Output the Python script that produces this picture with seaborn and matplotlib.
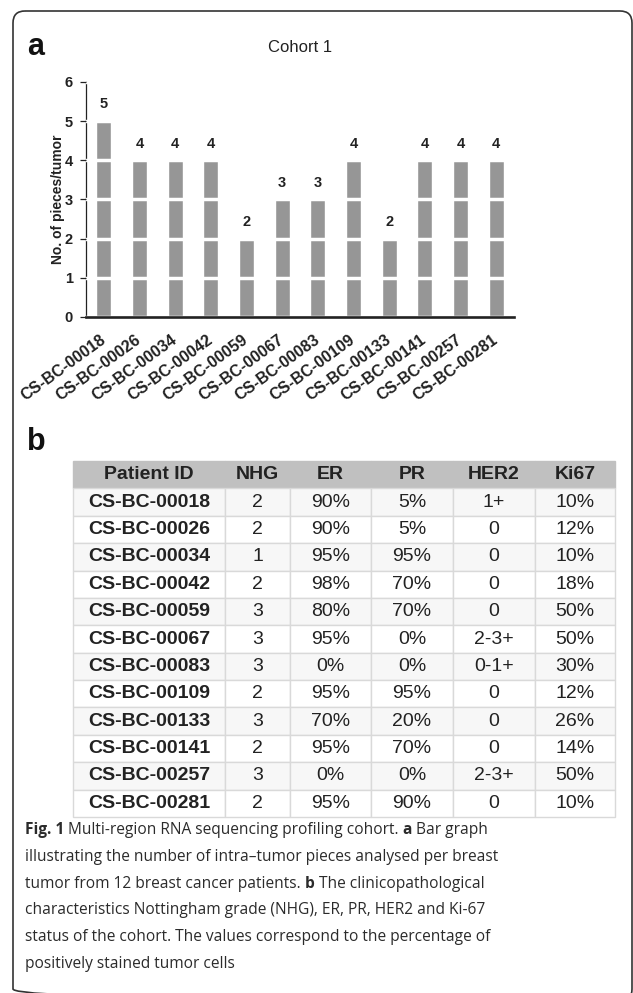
import matplotlib
matplotlib.use("Agg")
import matplotlib.pyplot as plt
from matplotlib.patches import FancyBboxPatch
import seaborn as sns

# data
patient_ids = ["CS-BC-00018", "CS-BC-00026", "CS-BC-00034", "CS-BC-00042",
               "CS-BC-00059", "CS-BC-00067", "CS-BC-00083", "CS-BC-00109",
               "CS-BC-00133", "CS-BC-00141", "CS-BC-00257", "CS-BC-00281"]
pieces = [5, 4, 4, 4, 2, 3, 3, 4, 2, 4, 4, 4]

table_header = ["Patient ID", "NHG", "ER", "PR", "HER2", "Ki67"]
nhg = ["2", "2", "1", "2", "3", "3", "3", "2", "3", "2", "3", "2"]
er = ["90%", "90%", "95%", "98%", "80%", "95%", "0%", "95%", "70%", "95%", "0%", "95%"]
pr = ["5%", "5%", "95%", "70%", "70%", "0%", "0%", "95%", "20%", "70%", "0%", "90%"]
her2 = ["1+", "0", "0", "0", "0", "2-3+", "0-1+", "0", "0", "0", "2-3+", "0"]
ki67 = ["10%", "12%", "10%", "18%", "50%", "50%", "30%", "12%", "26%", "14%", "50%", "10%"]

caption_lines = [
    [("Fig. 1", True), ("Multi-region RNA sequencing profiling cohort.", False),
     ("a", True), ("Bar graph", False)],
    [("illustrating the number of intra\u2013tumor pieces analysed per breast", False)],
    [("tumor from 12 breast cancer patients.", False), ("b", True),
     ("The clinicopathological", False)],
    [("characteristics Nottingham grade (NHG), ER, PR, HER2 and Ki-67", False)],
    [("status of the cohort. The values correspond to the percentage of", False)],
    [("positively stained tumor cells", False)],
]

sns.set_style("ticks")
plt.rcParams["font.family"] = ["Liberation Sans", "DejaVu Sans"]

W, H = 633, 993
fig = plt.figure(figsize=(W / 100, H / 100), dpi=100)


def box(left, top, right, bottom):
    # pixel box -> figure fraction
    return [left / W, 1 - bottom / H, (right - left) / W, (bottom - top) / H]


# full-figure canvas in pixel units for frame and free text
canvas = fig.add_axes([0, 0, 1, 1], zorder=5)
canvas.set_xlim(0, W)
canvas.set_ylim(H, 0)
canvas.axis("off")

frame = FancyBboxPatch((13, 11), 619, 990, boxstyle="round,pad=0,rounding_size=12",
                       fill=False, edgecolor="#333333", linewidth=1.2)
canvas.add_patch(frame)

canvas.text(27, 55, "a", fontsize=22, fontweight="bold", va="baseline", color="#111111")
canvas.text(27, 450, "b", fontsize=22, fontweight="bold", va="baseline", color="#111111")
canvas.text(300, 47, "Cohort 1", fontsize=12, ha="center", va="center", color="#222222")
canvas.text(58, 199, "No. of pieces/tumor", fontsize=10, fontweight="bold",
            rotation=90, ha="center", va="center", color="#222222")

# ---- bar chart ----
ax = fig.add_axes(box(86, 82, 514, 317))
sns.barplot(x=patient_ids, y=pieces, color="#969696", saturation=1, width=0.42,
            errorbar=None, ax=ax)
ax.set_xlim(-0.5, 11.5)
ax.set_ylim(0, 6)
ax.set_yticks(range(7))
ax.set_xlabel("")
ax.set_ylabel("")
ax.yaxis.grid(True, color="white", linewidth=2.5)
ax.set_axisbelow(False)
sns.despine(ax=ax)
ax.spines["left"].set_linewidth(0.9)
ax.spines["left"].set_color("#222222")
ax.spines["bottom"].set_linewidth(1.9)
ax.spines["bottom"].set_color("#222222")
ax.spines["bottom"].set_zorder(4)
ax.tick_params(axis="y", length=4.5, width=0.9, pad=5, labelsize=10.5, colors="#222222")
ax.tick_params(axis="x", length=0, pad=15, labelsize=11.5, colors="#222222")
for lab in ax.get_yticklabels():
    lab.set_fontweight("bold")
ax.set_xticks(range(len(patient_ids)))
ax.set_xticklabels(patient_ids, rotation=36, ha="right", va="center",
                   rotation_mode="anchor", fontweight="bold")
ax.bar_label(ax.containers[0], padding=7, fontsize=10.5, fontweight="bold", color="#222222")

# ---- table ----
tax = fig.add_axes(box(73, 461, 615, 817))
tax.axis("off")
rows = [list(r) for r in zip(patient_ids, nhg, er, pr, her2, ki67)]
col_px = [152, 65, 81, 82, 82, 80]
tbl = tax.table(cellText=rows, colLabels=table_header, cellLoc="center",
                colWidths=[c / sum(col_px) for c in col_px], bbox=[0, 0, 1, 1])
tbl.auto_set_font_size(False)
tbl.set_fontsize(14)
for (r, c), cell in tbl.get_celld().items():
    cell.set_linewidth(1.0)
    cell.get_text().set_color("#222222")
    if r == 0:
        cell.set_facecolor("#c0c0c0")
        cell.set_edgecolor("#c0c0c0")
        cell.get_text().set_fontweight("bold")
    else:
        cell.set_facecolor("#f7f7f7" if r % 2 == 1 else "white")
        cell.set_edgecolor("#d9d9d9")
        if c == 0:
            cell.get_text().set_fontweight("bold")

# ---- caption ----
cap_size = 11.2
space_pt = 0.26 * cap_size
for i, parts in enumerate(caption_lines):
    y = 834 + 26.8 * i
    prev = None
    for txt, bold in parts:
        kw = dict(fontsize=cap_size, family="Open Sans", color="#2b2b2b",
                  fontweight="bold" if bold else "normal")
        if prev is None:
            prev = canvas.text(25, y, txt, ha="left", va="baseline", **kw)
        else:
            prev = canvas.annotate(txt, xy=(1, 0), xycoords=prev, xytext=(space_pt, 0),
                                   textcoords="offset points", ha="left", va="bottom", **kw)

fig.savefig("out.png", dpi=100)
